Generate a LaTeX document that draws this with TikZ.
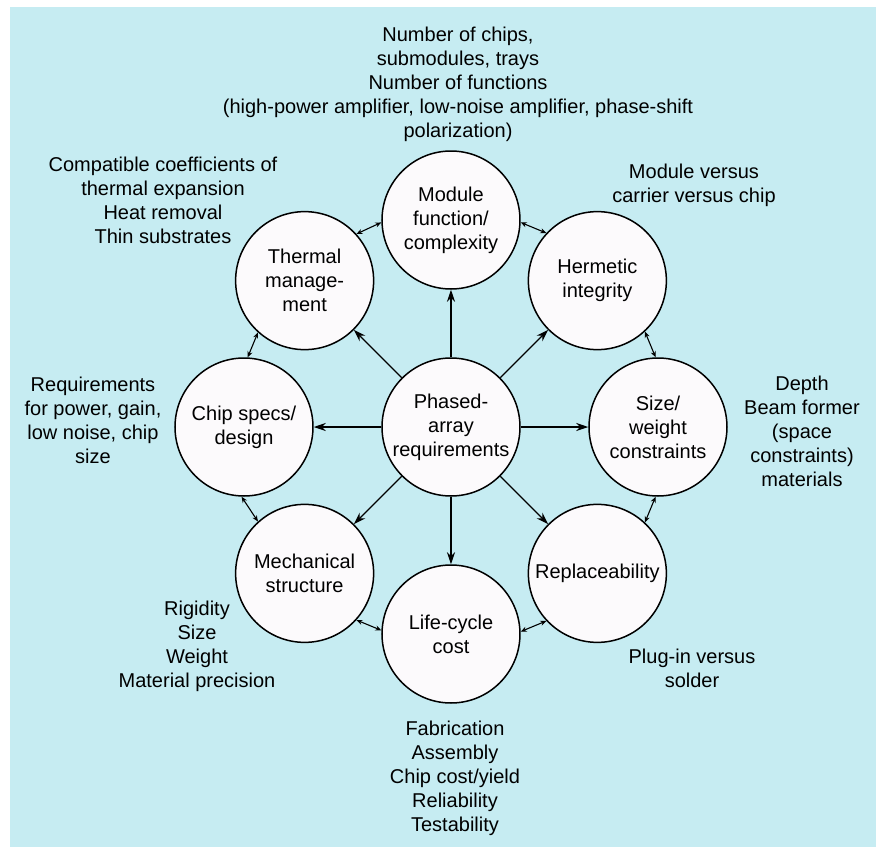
\documentclass[tikz,border=0pt]{standalone}
\usepackage{fontspec}
\setmainfont{Liberation Sans}
\usetikzlibrary{arrows.meta}
\definecolor{bgblue}{RGB}{198,236,242}
\definecolor{discfill}{RGB}{252,250,252}

\begin{document}
\begin{tikzpicture}[
    x=1pt, y=1pt,
    every node/.append style = {font=\fontsize{20}{24}\selectfont, align=center},
    disc/.style = {circle, draw, line width=1.5pt, fill=discfill,
                   minimum size=138pt, inner sep=0pt},
    notes/.style = {inner sep=0pt},
    ctrarrow/.style = {line width=1.3pt, -{Stealth[length=12pt, width=8pt]}},
    duoarrow/.style = {line width=1.1pt,
                       {Stealth[length=6pt, width=5pt]}-{Stealth[length=6pt, width=5pt]}},
  ]
  \begin{scope}
    %%+++++++++++++++++++++++++
    % Variables
    % Radius of the ring of circles
    \pgfmathsetmacro{\Rring}{207}
    %%+++++++++++++++++++++++++
    % Drawing
    % Background
    \useasboundingbox (-451,-420) rectangle (425,427);
    \fill[bgblue] (-441,-420) rectangle (425,420);
    % Circles
    \node[disc] (req) at (0,0) {Phased-\\array\\requirements};
    \node[disc] (mod) at (90:\Rring) {Module\\function/\\complexity};
    \node[disc] (her) at (45:\Rring) {Hermetic\\integrity};
    \node[disc] (siz) at (0:\Rring) {Size/\\weight\\constraints};
    \node[disc] (rep) at (-45:\Rring) {Replaceability};
    \node[disc] (lcc) at (-90:\Rring) {Life-cycle\\cost};
    \node[disc] (mec) at (-135:\Rring) {Mechanical\\structure};
    \node[disc] (chp) at (180:\Rring) {Chip specs/\\design};
    \node[disc] (thm) at (135:\Rring) {Thermal\\manage-\\ment};
    % Arrows from the requirements
    \draw[ctrarrow] (req) -- (mod);
    \draw[ctrarrow] (req) -- (her);
    \draw[ctrarrow] (req) -- (siz);
    \draw[ctrarrow] (req) -- (rep);
    \draw[ctrarrow] (req) -- (lcc);
    \draw[ctrarrow] (req) -- (mec);
    \draw[ctrarrow] (req) -- (chp);
    \draw[ctrarrow] (req) -- (thm);
    % Links round the ring
    \draw[duoarrow] (thm.42.5) -- (mod.182.5);
    \draw[duoarrow] (mod.-2.5) -- (her.137.5);
    \draw[duoarrow] (her.-47.5) -- (siz.92.5);
    \draw[duoarrow] (siz.-92.5) -- (rep.47.5);
    \draw[duoarrow] (rep.-137.5) -- (lcc.2.5);
    \draw[duoarrow] (lcc.177.5) -- (mec.-42.5);
    \draw[duoarrow] (mec.132.5) -- (chp.-92);
    \draw[duoarrow] (chp.87.5) -- (thm.-132.5);
    % Notes
    \node[notes] (notemod) at (7,343) {Number of chips,\\submodules, trays\\Number of functions\\(high-power amplifier, low-noise amplifier, phase-shift\\polarization)};
    \node[notes] (notethm) at (-288,227) {Compatible coefficients of\\thermal expansion\\Heat removal\\Thin substrates};
    \node[notes] (noteher) at (243,242) {Module versus\\carrier versus chip};
    \node[notes] (notechp) at (-358,7) {Requirements\\for power, gain,\\low noise, chip\\size};
    \node[notes] (notesiz) at (351,-4) {Depth\\Beam former\\(space\\constraints)\\materials};
    \node[notes] (notemec) at (-254,-219) {Rigidity\\Size\\Weight\\Material precision};
    \node[notes] (noterep) at (241,-241) {Plug-in versus\\solder};
    \node[notes] (notelcc) at (4,-351) {Fabrication\\Assembly\\Chip cost/yield\\Reliability\\Testability};
  \end{scope}
\end{tikzpicture}
\end{document}
